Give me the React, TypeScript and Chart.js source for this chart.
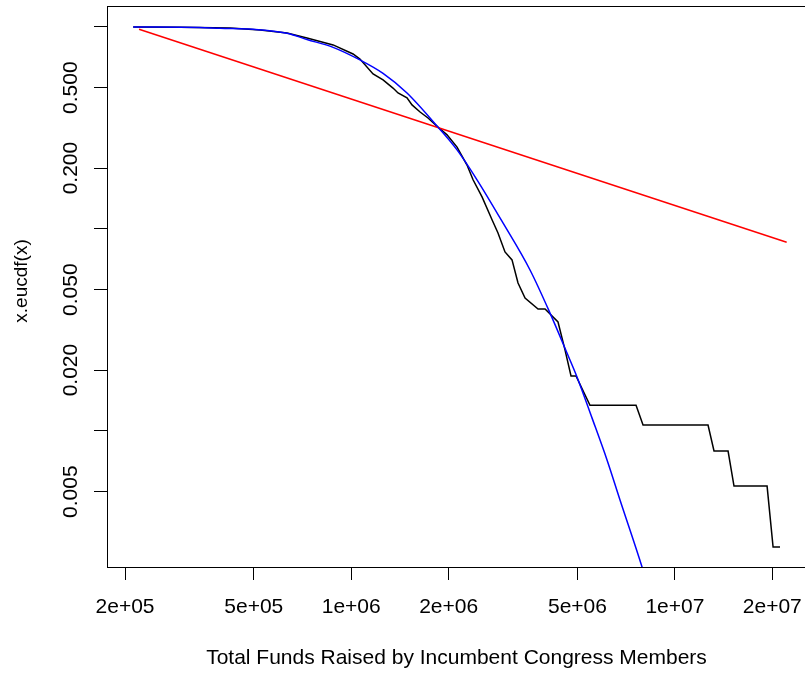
import React, { useEffect, useRef } from "react";
import { Chart, registerables } from "chart.js";

Chart.register(...registerables);

// ---- data ----
const blackX = [
  2.12e5, 2.96e5, 4.22e5, 5.23e5, 6.33e5, 7.3e5, 8.79e5, 1.013e6, 1.064e6, 1.168e6,
  1.254e6, 1.346e6, 1.395e6, 1.487e6, 1.541e6, 1.632e6, 1.727e6, 1.854e6, 1.977e6, 2.123e6,
  2.279e6, 2.379e6, 2.536e6, 2.723e6, 2.841e6, 2.986e6, 3.139e6, 3.276e6, 3.444e6, 3.778e6,
  3.971e6, 4.354e6, 4.576e6, 4.776e6, 4.949e6, 5.467e6, 7.586e6, 7.973e6, 1.266e7, 1.321e7,
  1.46e7, 1.523e7, 1.927e7, 2.011e7, 2.113e7,
];
const blackY = [
  1.0, 0.997, 0.987, 0.965, 0.933, 0.881, 0.814, 0.734, 0.693, 0.585,
  0.546, 0.498, 0.471, 0.445, 0.411, 0.379, 0.354, 0.319, 0.292, 0.254,
  0.207, 0.175, 0.144, 0.111, 0.0954, 0.0769, 0.0702, 0.054, 0.0455, 0.0401,
  0.0401, 0.0346, 0.0252, 0.0187, 0.0187, 0.0134, 0.0134, 0.0107, 0.0107, 0.00795,
  0.00795, 0.00533, 0.00533, 0.00266, 0.00266,
];

const redX = [2.21e5, 2.215e7];
const redY = [0.973, 0.0858];

const blueX = [
  2.12e5, 3.41e5, 3.93e5, 4.97e5, 6.33e5, 7.3e5, 8.79e5, 1.064e6, 1.254e6, 1.487e6,
  1.854e6, 2.123e6, 2.447e6, 2.944e6, 3.568e6, 4.114e6, 4.642e6, 4.984e6, 5.545e6, 6.171e6,
  6.768e6, 7.917e6, 8.381e6,
];
const blueY = [
  1.0, 0.993, 0.984, 0.973, 0.93, 0.866, 0.792, 0.686, 0.589, 0.471,
  0.319, 0.246, 0.175, 0.107, 0.0626, 0.0383, 0.0243, 0.0185, 0.0116, 0.00718,
  0.00455, 0.00212, 0.00156,
];

const xTicks = [2e5, 5e5, 1e6, 2e6, 5e6, 1e7, 2e7];
const xTickLabels = ["2e+05", "5e+05", "1e+06", "2e+06", "5e+06", "1e+07", "2e+07"];
const yTicks = [1, 0.5, 0.2, 0.1, 0.05, 0.02, 0.01, 0.005];
const yTickLabels = ["", "0.500", "0.200", "", "0.050", "0.020", "", "0.005"];

const xTitle = "Total Funds Raised by Incumbent Congress Members";
const yTitle = "x.eucdf(x)";

const X_MIN = 1.7594e5;
const X_MAX = 2.5418e7;
const Y_MIN = 0.0021196;
const Y_MAX = 1.2688;

const FONT = '"Liberation Sans", Arial, Helvetica, sans-serif';

const toPoints = (xs: number[], ys: number[]) => xs.map((x, i) => ({ x, y: ys[i] }));

const rPlotPlugin = {
  id: "rPlot",
  afterDraw(chart: any) {
    const { ctx, chartArea, scales } = chart;
    ctx.save();
    // box
    ctx.strokeStyle = "#000";
    ctx.lineWidth = 1;
    ctx.strokeRect(
      Math.round(chartArea.left) + 0.5,
      Math.round(chartArea.top) + 0.5,
      Math.round(chartArea.right) - Math.round(chartArea.left),
      Math.round(chartArea.bottom) - Math.round(chartArea.top)
    );
    // y tick labels (rotated, as in R)
    ctx.fillStyle = "#000";
    ctx.font = `21px ${FONT}`;
    ctx.textAlign = "center";
    ctx.textBaseline = "alphabetic";
    yTicks.forEach((v, i) => {
      const lab = yTickLabels[i];
      if (!lab) return;
      const py = scales.y.getPixelForValue(v);
      ctx.save();
      ctx.translate(77, py);
      ctx.rotate(-Math.PI / 2);
      ctx.fillText(lab, 0, 0);
      ctx.restore();
    });
    // y axis title
    ctx.font = `19px ${FONT}`;
    ctx.save();
    ctx.translate(27, 281);
    ctx.rotate(-Math.PI / 2);
    ctx.fillText(yTitle, 0, 0);
    ctx.restore();
    ctx.restore();
  },
};

export default function App() {
  const ref = useRef<HTMLCanvasElement>(null);

  useEffect(() => {
    const canvas = ref.current;
    if (!canvas) return;
    const chart = new Chart(canvas, {
      type: "line",
      data: {
        datasets: [
          {
            label: "lognormal",
            data: toPoints(blueX, blueY),
            borderColor: "#0000ff",
            borderWidth: 1.5,
            pointRadius: 0,
            fill: false,
            cubicInterpolationMode: "monotone",
          },
          {
            label: "power law",
            data: toPoints(redX, redY),
            borderColor: "#ff0000",
            borderWidth: 1.5,
            pointRadius: 0,
            fill: false,
            tension: 0,
          },
          {
            label: "empirical",
            data: toPoints(blackX, blackY),
            borderColor: "#000000",
            borderWidth: 1.5,
            pointRadius: 0,
            fill: false,
            tension: 0,
          },
        ],
      },
      options: {
        responsive: false,
        animation: false,
        devicePixelRatio: 1,
        layout: { padding: { top: 6, right: 2, left: 0, bottom: 0 } },
        plugins: {
          legend: { display: false },
          tooltip: { enabled: false },
          title: { display: false },
        },
        scales: {
          x: {
            type: "logarithmic",
            position: "bottom",
            min: X_MIN,
            max: X_MAX,
            afterBuildTicks: (s: any) => {
              s.ticks = xTicks.map((v) => ({ value: v }));
            },
            afterFit: (s: any) => {
              s.height = 106;
              s.paddingLeft = 0;
              s.paddingRight = 0;
              s.paddingTop = 0;
              s.paddingBottom = 0;
            },
            ticks: {
              autoSkip: false,
              maxRotation: 0,
              minRotation: 0,
              padding: 15,
              color: "#000",
              font: { family: FONT, size: 21 },
              callback: (_v: any, i: number) => xTickLabels[i],
            },
            grid: {
              display: true,
              drawOnChartArea: false,
              drawTicks: true,
              tickLength: 13,
              color: "#000",
              lineWidth: 1,
            },
            border: { display: false },
            title: {
              display: true,
              text: xTitle,
              color: "#000",
              font: { family: FONT, size: 21 },
              padding: { top: 0, bottom: 2 },
            },
          },
          y: {
            type: "logarithmic",
            position: "left",
            min: Y_MIN,
            max: Y_MAX,
            afterBuildTicks: (s: any) => {
              s.ticks = yTicks.map((v) => ({ value: v }));
            },
            afterFit: (s: any) => {
              s.width = 107;
              s.paddingLeft = 0;
              s.paddingRight = 0;
              s.paddingTop = 0;
              s.paddingBottom = 0;
            },
            ticks: { display: false },
            grid: {
              display: true,
              drawOnChartArea: false,
              drawTicks: true,
              tickLength: 13,
              color: "#000",
              lineWidth: 1,
            },
            border: { display: false },
          },
        },
      } as any,
      plugins: [rPlotPlugin],
    });
    return () => chart.destroy();
  }, []);

  return (
    <div
      style={{
        position: "fixed",
        left: 0,
        top: 0,
        width: 805,
        height: 673,
        overflow: "hidden",
        background: "#fff",
      }}
    >
      <canvas ref={ref} width={808} height={673} style={{ display: "block", width: 808, height: 673 }} />
    </div>
  );
}
